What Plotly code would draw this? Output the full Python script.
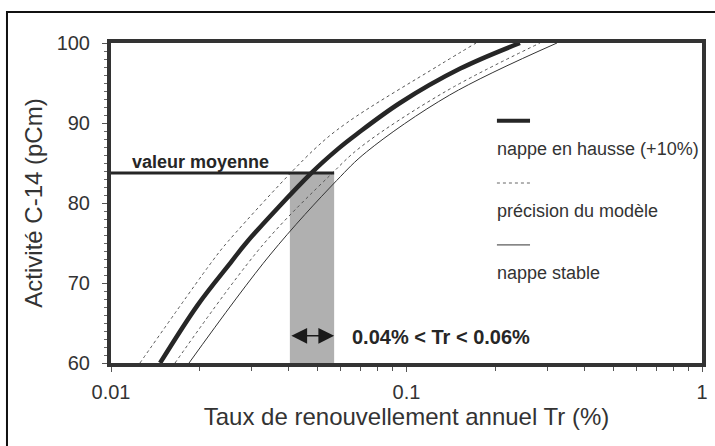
import math
import plotly.graph_objects as go

# ---- data ----
hausse_x = [0.01466, 0.0197, 0.0256, 0.0288, 0.0478, 0.0588, 0.0678, 0.095, 0.152, 0.242]
hausse_y = [60, 67.3, 72.7, 75.1, 83.8, 86.8, 88.6, 92.5, 96.8, 100]

prec_hi_x = [0.01253, 0.0222, 0.0249, 0.0484, 0.0627, 0.130, 0.172]
prec_hi_y = [60, 72.9, 75.2, 86.6, 90.0, 97.3, 100]

prec_lo_x = [0.01647, 0.0327, 0.0556, 0.070, 0.135, 0.283]
prec_lo_y = [60, 74.8, 83.6, 87.0, 93.9, 100]

stable_x = [0.01837, 0.0345, 0.058, 0.0733, 0.140, 0.323]
stable_y = [60, 73.5, 82.8, 86.4, 93.5, 100]

valeur_moyenne = 83.75
band_lo, band_hi = 0.0403, 0.0569
x_min, x_max = 0.01, 1
y_min, y_max = 60, 100

legend_labels = ["nappe en hausse (+10%)", "précision du modèle", "nappe stable"]
band_label = "0.04% < Tr < 0.06%"
mean_label = "valeur moyenne"

FONT = "Arial, Liberation Sans, sans-serif"
DARK = "#262626"

fig = go.Figure()

# shaded band
fig.add_shape(type="rect", xref="x", yref="y", x0=band_lo, x1=band_hi,
              y0=y_min, y1=valeur_moyenne, fillcolor="#b0b0b0",
              line=dict(width=0), layer="below")

# curves
fig.add_trace(go.Scatter(x=prec_hi_x, y=prec_hi_y, mode="lines", line_shape="spline",
                         line=dict(color="#555555", width=1, dash="dot"), showlegend=False))
fig.add_trace(go.Scatter(x=prec_lo_x, y=prec_lo_y, mode="lines", line_shape="spline",
                         line=dict(color="#555555", width=1, dash="dot"), showlegend=False))
fig.add_trace(go.Scatter(x=stable_x, y=stable_y, mode="lines", line_shape="spline",
                         line=dict(color="#333333", width=1), showlegend=False))
fig.add_trace(go.Scatter(x=hausse_x, y=hausse_y, mode="lines", line_shape="spline",
                         line=dict(color=DARK, width=4.5), showlegend=False))

# mean line
fig.add_trace(go.Scatter(x=[x_min, band_hi], y=[valeur_moyenne, valeur_moyenne], mode="lines",
                         line=dict(color=DARK, width=3), showlegend=False))

# double arrow in band
arrow_y = 63.4
fig.add_annotation(x=math.log10(band_hi), y=arrow_y, ax=math.log10(band_lo), ay=arrow_y,
                   xref="x", yref="y", axref="x", ayref="y", text="", showarrow=True,
                   arrowhead=2, arrowside="end+start", arrowsize=2.1, arrowwidth=1.5,
                   arrowcolor="#1a1a1a", standoff=0, startstandoff=0)

fig.add_annotation(x=math.log10(band_hi) + 0.054, y=arrow_y, xref="x", yref="y", yshift=-1,
                   text="<b>" + band_label + "</b>", showarrow=False, xanchor="left",
                   font=dict(family=FONT, size=20, color=DARK))
fig.add_annotation(x=math.log10(x_min) + 0.064, y=valeur_moyenne, xref="x", yref="y", yshift=11,
                   text="<b>" + mean_label + "</b>", showarrow=False, xanchor="left", yanchor="middle",
                   font=dict(family=FONT, size=18, color=DARK))

# custom legend (sample line above label)
leg_x0, leg_x1 = 0.653, 0.709
samples = [(0.757, dict(color=DARK, width=4)), (0.5625, dict(color="#666666", width=1, dash="dot")),
           (0.369, dict(color="#333333", width=1))]
label_y = [0.669, 0.475, 0.281]
for (sy, ln), lab, ly in zip(samples, legend_labels, label_y):
    fig.add_shape(type="line", xref="paper", yref="paper", x0=leg_x0, x1=leg_x1, y0=sy, y1=sy, line=ln)
    fig.add_annotation(x=leg_x0, y=ly, xref="paper", yref="paper", text=lab, showarrow=False,
                       xanchor="left", yanchor="middle", xshift=-2,
                       font=dict(family=FONT, size=18, color="#333333"))

# outer frame (partially outside picture)
fig.add_shape(type="rect", xref="paper", yref="paper", x0=-0.176, x1=1.05, y0=-0.3, y1=1.097,
              line=dict(color="#111111", width=2), layer="below")

fig.update_layout(
    width=715, height=446, margin=dict(l=111, r=13, t=43, b=83),
    paper_bgcolor="white", plot_bgcolor="white",
    font=dict(family=FONT, size=20, color="#333333"),
    xaxis=dict(type="log", range=[math.log10(x_min), math.log10(x_max)], dtick=1, automargin=False,
               showline=True, linewidth=4, linecolor="#333333", mirror=True,
               ticks="outside", ticklen=5, tickcolor="#555555", showgrid=False, zeroline=False,
               minor=dict(ticks="outside", ticklen=4, dtick="D1", tickcolor="#555555", showgrid=False),
               ticklabelstandoff=3, tickfont=dict(size=20),
               title=dict(text="Taux de renouvellement annuel Tr (%)", font=dict(size=24), standoff=5)),
    yaxis=dict(range=[y_min, y_max], dtick=10, showline=True, linewidth=4, linecolor="#333333",
               mirror=True, ticks="outside", ticklen=5, tickcolor="#555555", showgrid=False,
               zeroline=False, automargin=False,
               minor=dict(ticks="outside", ticklen=3, dtick=1, tickcolor="#666666", showgrid=False),
               ticklabelstandoff=8, tickfont=dict(size=20),
               title=dict(text="Activité C-14 (pCm)", font=dict(size=24), standoff=8)),
)

fig.write_html("out.html", config={"displayModeBar": False},
               post_script="document.body.style.margin='0';document.body.style.overflow='hidden';")
